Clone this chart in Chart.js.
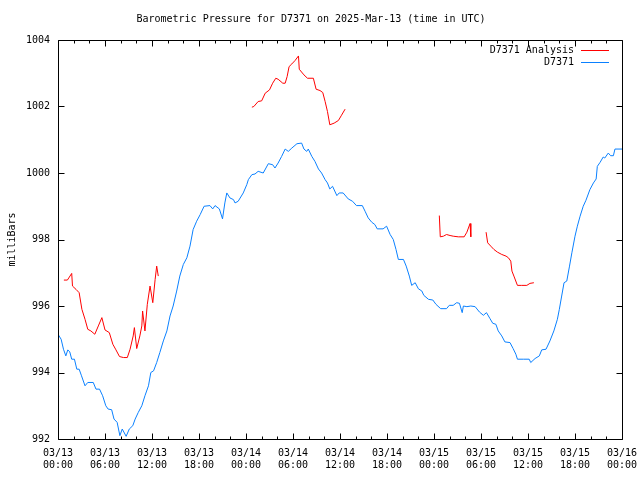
<!DOCTYPE html>
<html>
<head>
<meta charset="utf-8">
<title>Barometric Pressure D7371</title>
<script src="https://cdn.jsdelivr.net/npm/chart.js@4/dist/chart.umd.min.js"></script>
<style>
  html, body { margin: 0; padding: 0; background: #fff; }
  canvas { display: block; }
</style>
</head>
<body>
<canvas id="myChart" width="640" height="480"></canvas>
<script>
// hours since 2025-03-13 00:00 UTC
const stationHours = [0.0, 0.4, 0.7, 1.0, 1.25, 1.5, 1.75, 2.1, 2.4, 2.7, 3.0, 3.45, 3.8, 4.5, 4.85, 5.3, 5.7, 6.1, 6.4, 6.85,
  7.15, 7.55, 7.9, 8.2, 8.7, 9.1, 9.55, 9.85, 10.25, 10.7, 11.1, 11.55, 11.85, 12.2, 12.6, 13.0, 13.45, 13.9, 14.3, 14.7,
  15.15, 15.55, 16.0, 16.45, 16.85, 17.25, 17.7, 18.15, 18.65, 19.4, 19.75, 20.05, 20.6, 21.0, 21.3, 21.55, 21.95, 22.4, 22.6, 23.0,
  23.65, 24.1, 24.3, 24.75, 25.15, 25.55, 26.2, 26.85, 27.4, 27.7, 28.1, 28.55, 29.0, 29.4, 29.85, 30.5, 31.1, 31.4, 31.75, 31.95,
  32.4, 32.8, 33.25, 33.65, 34.1, 34.4, 34.7, 35.05, 35.6, 35.9, 36.4, 37.05, 37.6, 38.1, 38.85, 39.2, 39.6, 40.05, 40.45, 40.75,
  41.5, 41.95, 42.4, 42.8, 43.15, 43.45, 44.1, 44.45, 44.85, 45.15, 45.6, 46.0, 46.45, 46.7, 47.3, 47.85, 48.25, 48.85, 49.6, 49.95,
  50.45, 50.9, 51.25, 51.6, 51.75, 52.2, 52.7, 53.25, 53.8, 54.3, 54.7, 55.15, 55.5, 55.9, 56.2, 56.65, 57.05, 57.7, 58.1, 58.45,
  58.65, 59.4, 60.15, 60.35, 60.9, 61.45, 61.75, 62.3, 62.8, 63.3, 63.75, 64.0, 64.3, 64.6, 64.95, 65.3, 65.6, 66.0, 66.3, 66.65,
  67.05, 67.4, 67.9, 68.35, 68.7, 68.85, 69.2, 69.6, 69.8, 70.25, 70.55, 70.9, 71.1, 72.0]
const stationPressure = [995.15, 995.0, 994.7, 994.5, 994.68, 994.62, 994.4, 994.4, 994.1, 994.1, 993.9, 993.6, 993.7, 993.7, 993.5, 993.5, 993.3, 993.0, 992.9, 992.88,
  992.6, 992.5, 992.1, 992.3, 992.08, 992.3, 992.4, 992.6, 992.8, 993.0, 993.3, 993.6, 994.0, 994.05, 994.3, 994.6, 994.95, 995.25, 995.7, 996.0,
  996.45, 996.9, 997.25, 997.45, 997.8, 998.3, 998.55, 998.75, 999.0, 999.02, 998.92, 999.02, 998.92, 998.62, 999.1, 999.4, 999.25, 999.2, 999.1, 999.15,
  999.4, 999.65, 999.8, 999.95, 999.97, 1000.05, 1000.0, 1000.28, 1000.25, 1000.15, 1000.3, 1000.5, 1000.72, 1000.65, 1000.75, 1000.88, 1000.9, 1000.72, 1000.65, 1000.72,
  1000.5, 1000.35, 1000.12, 1000.0, 999.8, 999.7, 999.52, 999.6, 999.32, 999.4, 999.4, 999.22, 999.15, 999.02, 999.02, 998.85, 998.65, 998.52, 998.45, 998.32,
  998.32, 998.4, 998.15, 998.0, 997.7, 997.4, 997.4, 997.2, 996.9, 996.62, 996.7, 996.52, 996.45, 996.32, 996.2, 996.18, 996.05, 995.92, 995.92, 996.02,
  996.02, 996.1, 996.08, 995.8, 996.0, 995.98, 996.0, 995.98, 995.82, 995.72, 995.8, 995.62, 995.48, 995.45, 995.25, 995.1, 994.92, 994.9, 994.72, 994.55,
  994.4, 994.4, 994.4, 994.3, 994.42, 994.5, 994.68, 994.7, 994.95, 995.25, 995.6, 995.9, 996.3, 996.7, 996.75, 997.2, 997.6, 998.1, 998.4, 998.7,
  999.0, 999.18, 999.5, 999.7, 999.82, 1000.2, 1000.32, 1000.48, 1000.45, 1000.6, 1000.52, 1000.52, 1000.72, 1000.72]

// analysis runs, null breaks the line between runs
const analysisHours = [0.75, 1.2, 1.75, 1.85, 2.3, 2.7, 3.05, 3.45, 3.8, 4.2, 4.7, 5.15, 5.6, 6.0, 6.55, 7.0, 7.4, 7.85, 8.35, 8.85,
  9.2, 9.6, 9.75, 10.05, 10.45, 10.7, 10.8, 11.1, 11.4, 11.75, 12.1, 12.4, 12.6, 12.8,
  18.0,
  24.75, 25.0, 25.55, 26.0, 26.45, 27.0, 27.4, 27.8, 28.1, 28.7, 29.0, 29.25, 29.5, 29.85, 30.25, 30.7, 30.8, 31.4, 31.85, 32.6,
  32.95, 33.45, 33.8, 34.1, 34.4, 34.7, 35.25, 35.8, 36.15, 36.65,
  42.0,
  48.68, 48.8, 49.2, 49.6, 50.05, 50.45, 51.1, 51.85, 52.2, 52.6, 52.7,
  53.6,
  54.65, 54.85, 55.25, 55.65, 56.1, 56.65, 57.2, 57.5, 57.8, 57.95, 58.2, 58.65, 59.2, 59.85, 60.25, 60.75]
const analysisPressure = [996.78, 996.78, 996.98, 996.6, 996.5, 996.4, 995.9, 995.6, 995.3, 995.25, 995.15, 995.4, 995.65, 995.28, 995.2, 994.85, 994.68, 994.48, 994.45, 994.45,
  994.7, 995.1, 995.35, 994.72, 995.1, 995.4, 995.85, 995.25, 996.05, 996.6, 996.1, 996.8, 997.2, 996.9,
  null,
  1001.98, 1002.0, 1002.15, 1002.17, 1002.4, 1002.5, 1002.7, 1002.85, 1002.82, 1002.7, 1002.7, 1002.9, 1003.2, 1003.28, 1003.38, 1003.52, 1003.12, 1002.95, 1002.85, 1002.85,
  1002.52, 1002.48, 1002.42, 1002.15, 1001.85, 1001.45, 1001.5, 1001.58, 1001.72, 1001.92,
  null,
  998.72, 998.08, 998.1, 998.15, 998.12, 998.1, 998.08, 998.08, 998.22, 998.48, 998.08,
  null,
  998.22, 997.9, 997.8, 997.7, 997.62, 997.55, 997.5, 997.45, 997.35, 997.05, 996.9, 996.62, 996.62, 996.62, 996.68, 996.7]

const tickLabels = [
  ["03/13", "00:00"], ["03/13", "06:00"], ["03/13", "12:00"], ["03/13", "18:00"],
  ["03/14", "00:00"], ["03/14", "06:00"], ["03/14", "12:00"], ["03/14", "18:00"],
  ["03/15", "00:00"], ["03/15", "06:00"], ["03/15", "12:00"], ["03/15", "18:00"],
  ["03/16", "00:00"]
]
const pressureLabels = ["992", "994", "996", "998", "1000", "1002", "1004"]

const monoFont = { family: "'DejaVu Sans Mono', monospace", size: 10, weight: "normal", lineHeight: 1.25 }

const toPoints = (xs, ys) => xs.map((x, i) => ({ x: x, y: ys[i] }))

// gnuplot-ish frame: inward ticks on all four sides + legend in the top right
const framePlugin = {
  id: "frame",
  afterDraw(chart) {
    const ctx = chart.ctx
    const a = chart.chartArea
    const xs = chart.scales.x
    const ys = chart.scales.y
    const L = Math.round(a.left) + 0.5, R = Math.round(a.right) + 0.5
    const T = Math.round(a.top) + 0.5, B = Math.round(a.bottom) + 0.5
    ctx.save()
    ctx.strokeStyle = "#000"
    ctx.lineWidth = 1
    ctx.beginPath()
    ctx.rect(L, T, R - L, B - T)
    for (let h = 0; h <= 72; h += 2) {
      const px = Math.round(xs.getPixelForValue(h)) + 0.5
      const len = h % 6 === 0 ? 6 : 3
      ctx.moveTo(px, B); ctx.lineTo(px, B - len)
      ctx.moveTo(px, T); ctx.lineTo(px, T + len)
    }
    for (let v = 992; v <= 1004; v += 2) {
      const py = Math.round(ys.getPixelForValue(v)) + 0.5
      ctx.moveTo(L, py); ctx.lineTo(L + 6, py)
      ctx.moveTo(R, py); ctx.lineTo(R - 6, py)
    }
    ctx.stroke()

    ctx.font = "10px 'DejaVu Sans Mono', monospace"
    ctx.textAlign = "right"
    ctx.textBaseline = "middle"
    chart.data.datasets.forEach((ds, i) => {
      const y = Math.round(a.top) + 10 + i * 12
      ctx.fillStyle = "#000"
      ctx.fillText(ds.label, a.right - 48, y)
      ctx.strokeStyle = ds.borderColor
      ctx.beginPath()
      ctx.moveTo(a.right - 41, y + 0.5)
      ctx.lineTo(a.right - 13, y + 0.5)
      ctx.stroke()
    })
    ctx.restore()
  }
}

const ctx = document.getElementById("myChart")

new Chart(ctx, {
  type: "line",
  data: {
    datasets: [
      {
        label: "D7371 Analysis",
        data: toPoints(analysisHours, analysisPressure),
        borderColor: "#ff0000",
        borderWidth: 1,
        pointRadius: 0,
        tension: 0,
        spanGaps: false,
      },
      {
        label: "D7371",
        data: toPoints(stationHours, stationPressure),
        borderColor: "#0a80ff",
        borderWidth: 1,
        pointRadius: 0,
        tension: 0,
      },
    ],
  },
  options: {
    responsive: false,
    animation: false,
    devicePixelRatio: 1,
    layout: { padding: { left: 0, right: 18, top: 0, bottom: 0 } },
    plugins: {
      legend: { display: false },
      tooltip: { enabled: false },
      title: {
        display: true,
        text: "Barometric Pressure for D7371 on 2025-Mar-13 (time in UTC)",
        color: "#000",
        font: { family: monoFont.family, size: 10, weight: "normal", lineHeight: 1.2 },
        padding: { top: 13, bottom: 15 },
      },
    },
    scales: {
      x: {
        type: "linear",
        min: 0,
        max: 72,
        grid: { display: false, drawTicks: false },
        border: { display: false },
        ticks: {
          stepSize: 6,
          autoSkip: false,
          maxRotation: 0,
          color: "#000",
          font: monoFont,
          padding: 8,
          callback: (value, index) => tickLabels[index],
        },
        afterFit: (scale) => {
          scale.height = 41
          scale.paddingLeft = 0
          scale.paddingRight = 0
        },
      },
      y: {
        min: 992,
        max: 1004,
        grid: { display: false, drawTicks: false },
        border: { display: false },
        ticks: {
          stepSize: 2,
          color: "#000",
          font: monoFont,
          padding: 8,
          callback: (value, index) => pressureLabels[index],
        },
        title: {
          display: true,
          text: "milliBars",
          color: "#000",
          font: { family: monoFont.family, size: 10, weight: "normal", lineHeight: 1.2 },
          padding: { top: 6, bottom: 0 },
        },
        afterFit: (scale) => {
          scale.width = 58
          scale.paddingTop = 0
          scale.paddingBottom = 0
        },
      },
    },
  },
  plugins: [framePlugin],
})
</script>
</body>
</html>
